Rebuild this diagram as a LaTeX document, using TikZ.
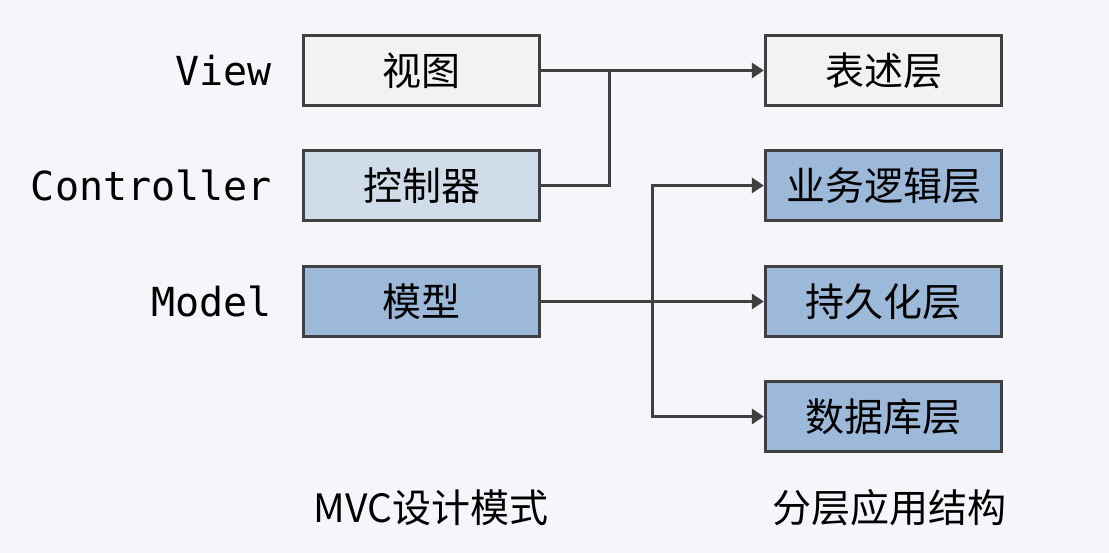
\documentclass[tikz,border=0pt]{standalone}
\usepackage{fontspec}
\newfontfamily\cjk{Noto Sans CJK SC}
\newfontfamily\monof{DejaVu Sans Mono}
\usetikzlibrary{arrows.meta}
\definecolor{bgc}{HTML}{F5F5FA}
\definecolor{edgec}{HTML}{404040}
\definecolor{grayf}{HTML}{F2F2F2}
\definecolor{lightb}{HTML}{D1DCEB}
\definecolor{blueb}{HTML}{9DB9DA}
\tikzset{
  boxn/.style={draw=edgec, line width=3.3pt, minimum width=236pt, minimum height=70pt, inner sep=0pt, font=\cjk\fontsize{39}{42}\selectfont, text=black},
  lab/.style={anchor=east, font=\monof\fontsize{40}{43}\selectfont, text=black, inner sep=0pt},
  captext/.style={font=\cjk\fontsize{39}{42}\selectfont, text=black, inner sep=0pt},
  conn/.style={draw=edgec, line width=3pt},
  arr/.style={conn, -{Triangle[length=12pt,width=15pt]}}
}
\begin{document}
\begin{tikzpicture}[x=1pt,y=1pt]
\fill[bgc] (0,0) rectangle (1109,553);
\useasboundingbox (0,0) rectangle (1109,553);
% left boxes
\node[boxn, fill=grayf] (view) at (421.5,482.5) {视图};
\node[boxn, fill=lightb] (ctrl) at (421.5,367.5) {控制器};
\node[boxn, fill=blueb] (model) at (421.5,251.5) {模型};
% right boxes
\node[boxn, fill=grayf] (pres) at (883.5,482.5) {表述层};
\node[boxn, fill=blueb] (biz) at (883.5,367.5) {业务逻辑层};
\node[boxn, fill=blueb] (pers) at (883.5,251.5) {持久化层};
\node[boxn, fill=blueb] (db) at (883.5,136.5) {数据库层};
% labels
\node[lab] (lview) at (272,482.5) {View};
\node[lab] (lctrl) at (272,367.5) {Controller};
\node[lab] (lmodel) at (272,251.5) {Model};
\node[captext] (cmvc) at (431,45) {MVC设计模式};
\node[captext] (clay) at (889,45) {分层应用结构};
% connectors
\coordinate (jv) at (609,482.5);
\coordinate (jm) at (652,251.5);
\draw[arr] (view.east) -- (pres.west);
\draw[conn] (ctrl.east) -| (jv);
\draw[arr] (model.east) -- (pers.west);
\draw[arr] (jm) |- (biz.west);
\draw[arr] (jm) |- (db.west);
\end{tikzpicture}
\end{document}
